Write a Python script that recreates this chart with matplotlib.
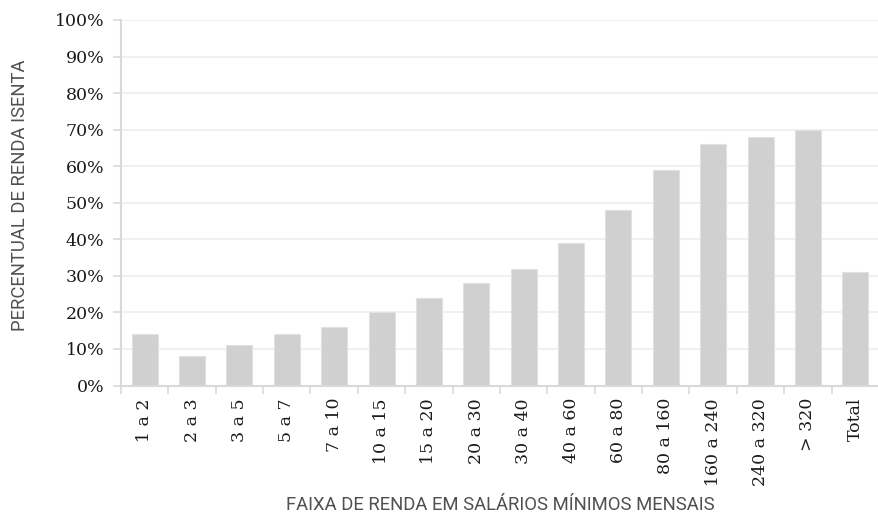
import numpy as np
import matplotlib
matplotlib.use('Agg')
import matplotlib.pyplot as plt
from matplotlib.ticker import PercentFormatter

# Data
faixas = ['1 a 2', '2 a 3', '3 a 5', '5 a 7', '7 a 10', '10 a 15', '15 a 20',
          '20 a 30', '30 a 40', '40 a 60', '60 a 80', '80 a 160', '160 a 240',
          '240 a 320', '> 320', 'Total']
pct_isenta = [14, 8, 11, 14, 16, 20, 24, 28, 32, 39, 48, 59, 66, 68, 70, 31]

bar_color = '#d0d0d0'
spine_color = '#d9d9d9'
grid_color = '#eeeeee'
tick_font = 'DejaVu Serif'
title_font = 'Roboto'

fig = plt.figure(figsize=(8.79, 5.28), dpi=100)
ax = fig.add_axes([121 / 879, 1 - 385.5 / 528, 1 - 121 / 879, (385.5 - 20) / 528])

x = np.arange(len(faixas))
ax.bar(x, pct_isenta, width=0.55, color=bar_color, edgecolor='#e2e2e2',
       linewidth=0.8, zorder=2)

ax.set_xlim(-0.5, len(faixas) - 0.5)
ax.set_ylim(0, 100)
ax.set_yticks(np.arange(0, 101, 10))
ax.yaxis.set_major_formatter(PercentFormatter(decimals=0))
ax.grid(axis='y', color=grid_color, linewidth=1.2, zorder=0)
ax.set_axisbelow(True)

# category labels in the middle, tick marks on the boundaries
ax.set_xticks(x)
ax.set_xticklabels(faixas, rotation=90, fontfamily=tick_font, fontsize=12.5)
ax.tick_params(axis='x', which='major', length=0, pad=9)
ax.set_xticks(np.arange(-0.5, len(faixas), 1), minor=True)
ax.tick_params(axis='x', which='minor', length=6, width=1.2, color=spine_color)
ax.tick_params(axis='y', length=6, width=1.2, color=spine_color, pad=6)
for lbl in ax.get_yticklabels():
    lbl.set_fontfamily(tick_font)
    lbl.set_fontsize(12.5)
    lbl.set_color('#1a1a1a')
for lbl in ax.get_xticklabels():
    lbl.set_color('#1a1a1a')

for side in ['top', 'right']:
    ax.spines[side].set_visible(False)
for side in ['left', 'bottom']:
    ax.spines[side].set_color(spine_color)
    ax.spines[side].set_linewidth(1.5)

fig.text(500 / 879, 1 - 505 / 528, 'FAIXA DE RENDA EM SALÁRIOS MÍNIMOS MENSAIS',
         ha='center', va='center', fontfamily=title_font, fontweight='normal',
         fontsize=13.3, color='#505050')
fig.text(20 / 879, 1 - 195 / 528, 'PERCENTUAL DE RENDA ISENTA', rotation=90,
         ha='center', va='center', fontfamily=title_font, fontweight='normal',
         fontsize=13.3, color='#505050')

fig.savefig('out.png', dpi=100)
